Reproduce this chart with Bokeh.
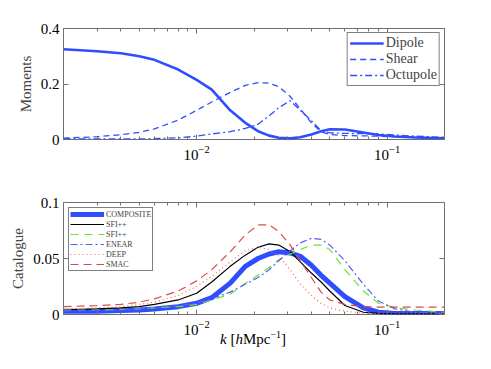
import numpy as np
from bokeh.plotting import figure
from bokeh.layouts import column
from bokeh.models import (FixedTicker, LogAxis, LinearAxis, Legend, LegendItem,
                          ColumnDataSource, Div)
from bokeh.core.properties import value
from bokeh.embed import file_html
from bokeh.resources import INLINE

# ---------------- data ----------------
k = [0.002, 0.003, 0.004, 0.005, 0.006, 0.008, 0.01, 0.012, 0.015, 0.018, 0.021,
     0.024, 0.027, 0.031, 0.035, 0.04, 0.045, 0.05, 0.06, 0.075, 0.09, 0.11, 0.14, 0.2]

dipole = [0.325, 0.318, 0.311, 0.300, 0.287, 0.252, 0.215, 0.180, 0.105, 0.060, 0.030,
          0.014, 0.006, 0.004, 0.008, 0.018, 0.030, 0.037, 0.036, 0.025, 0.016, 0.011, 0.007, 0.004]
shear = [0.005, 0.010, 0.017, 0.026, 0.038, 0.070, 0.105, 0.135, 0.170, 0.195, 0.205,
         0.203, 0.190, 0.155, 0.110, 0.060, 0.028, 0.018, 0.014, 0.013, 0.012, 0.010, 0.008, 0.005]
octupole = [0.003, 0.002, 0.002, 0.002, 0.003, 0.006, 0.012, 0.020, 0.028, 0.040, 0.055,
            0.085, 0.115, 0.140, 0.105, 0.068, 0.032, 0.024, 0.022, 0.021, 0.020, 0.016, 0.012, 0.008]

composite = [0.003, 0.003, 0.0035, 0.004, 0.005, 0.007, 0.010, 0.015, 0.028, 0.043, 0.050,
             0.054, 0.056, 0.055, 0.052, 0.044, 0.035, 0.028, 0.016, 0.006, 0.002, 0.001, 0.001, 0.001]
sfi_f = [0.004, 0.005, 0.006, 0.007, 0.009, 0.013, 0.019, 0.029, 0.043, 0.053, 0.060,
         0.063, 0.062, 0.056, 0.047, 0.037, 0.029, 0.021, 0.008, 0.002, 0.001, 0.0005, 0.0005, 0.0005]
sfi_s = [0.004, 0.004, 0.0045, 0.005, 0.006, 0.007, 0.009, 0.013, 0.018, 0.028, 0.035,
         0.042, 0.049, 0.054, 0.058, 0.062, 0.062, 0.058, 0.040, 0.021, 0.010, 0.006, 0.004, 0.002]
enear = [0.003, 0.0035, 0.004, 0.005, 0.006, 0.008, 0.010, 0.014, 0.020, 0.027, 0.033,
         0.040, 0.048, 0.057, 0.064, 0.068, 0.067, 0.062, 0.048, 0.027, 0.012, 0.005, 0.002, 0.001]
deep = [0.005, 0.006, 0.007, 0.009, 0.011, 0.017, 0.025, 0.034, 0.047, 0.057, 0.060,
        0.058, 0.052, 0.040, 0.027, 0.017, 0.010, 0.006, 0.003, 0.001, 0.0005, 0.0005, 0.0005, 0.0005]
smac = [0.007, 0.008, 0.009, 0.011, 0.014, 0.021, 0.030, 0.040, 0.056, 0.071, 0.080,
        0.080, 0.074, 0.062, 0.048, 0.033, 0.020, 0.013, 0.009, 0.007, 0.0065, 0.0065, 0.0065, 0.0065]

x_major = [0.01, 0.1]
x_minor = [0.002, 0.003, 0.004, 0.005, 0.006, 0.007, 0.008, 0.009,
           0.02, 0.03, 0.04, 0.05, 0.06, 0.07, 0.08, 0.09, 0.2]
top_yticks = [0, 0.2, 0.4]
top_ylabels = ["0", "0.2", "0.4"]
bot_yticks = [0, 0.05, 0.1]
bot_ylabels = ["0", "0.05", "0.1"]

# legend subscripts (SFI++_f, SFI++_s) and where they sit inside the legend box
sub_text = ["f", "s"]
sub_x = [0.00442, 0.00442]
sub_y = [0.0780, 0.0690]

FONT = "Liberation Serif"
GREY = "#707070"


def style_axis(ax, size="15px"):
    ax.axis_line_color = None
    ax.major_tick_in = 5
    ax.major_tick_out = 0
    ax.minor_tick_in = 3
    ax.minor_tick_out = 0
    ax.major_tick_line_color = GREY
    ax.minor_tick_line_color = GREY
    ax.major_label_text_font = FONT
    ax.major_label_text_color = "black"
    ax.major_label_text_font_size = size
    ax.axis_label_text_font = FONT
    ax.axis_label_text_font_style = "normal"
    ax.axis_label_text_font_size = size


def make_fig(yticks, ylabels, yrange, h, top, bottom, ylabel):
    p = figure(x_axis_type="log", x_range=(0.002, 0.2), y_range=yrange,
               width=491, height=h,
               min_border_left=63, min_border_right=47,
               min_border_top=top, min_border_bottom=bottom,
               output_backend="svg", toolbar_location=None)
    p.grid.visible = False
    p.outline_line_color = GREY
    p.outline_line_width = 1
    p.xaxis.ticker = FixedTicker(ticks=x_major, minor_ticks=x_minor)
    p.yaxis.ticker = FixedTicker(ticks=yticks)
    p.yaxis.major_label_overrides = {t: l for t, l in zip(yticks, ylabels)}
    style_axis(p.xaxis[0])
    style_axis(p.yaxis[0])
    p.yaxis.axis_label = ylabel
    p.yaxis.axis_label_standoff = 4
    p.yaxis.major_label_standoff = 4
    p.xaxis.major_label_standoff = 6
    # tick marks on the top and right edges (matlab-like box)
    ax_top = LogAxis(ticker=FixedTicker(ticks=x_major, minor_ticks=x_minor))
    style_axis(ax_top)
    ax_top.major_label_text_alpha = 0
    ax_top.major_label_text_font_size = "2px"
    p.add_layout(ax_top, "above")
    ax_right = LinearAxis(ticker=FixedTicker(ticks=yticks))
    style_axis(ax_right)
    ax_right.major_label_text_alpha = 0
    ax_right.major_label_text_font_size = "2px"
    p.add_layout(ax_right, "right")
    return p


BLUE = "#2f4dff"

# ---------- top panel ----------
p1 = make_fig(top_yticks, top_ylabels, (0, 0.4), 178, 28, 39, "Moments")
src1 = ColumnDataSource(dict(k=k, dipole=dipole, shear=shear, octupole=octupole))
r_d = p1.line("k", "dipole", source=src1, line_color=BLUE, line_width=2.6)
r_s = p1.line("k", "shear", source=src1, line_color=BLUE, line_width=1.3, line_dash="6 4")
r_o = p1.line("k", "octupole", source=src1, line_color=BLUE, line_width=1.3, line_dash="7 3 2 3")
leg1 = Legend(items=[LegendItem(label="Dipole", renderers=[r_d]),
                     LegendItem(label="Shear", renderers=[r_s]),
                     LegendItem(label="Octupole", renderers=[r_o])],
              location="top_right")
leg1.label_text_font = FONT
leg1.label_text_font_size = "14px"
leg1.border_line_color = "black"
leg1.border_line_width = 1
leg1.padding = 2
leg1.spacing = 0
leg1.margin = 4
leg1.glyph_width = 34
leg1.glyph_height = 14
leg1.label_height = 14
leg1.label_standoff = 2
leg1.background_fill_alpha = 1
p1.add_layout(leg1)

# ---------- bottom panel ----------
p2 = make_fig(bot_yticks, bot_ylabels, (0, 0.1), 161, 24, 25, "Catalogue")
src2 = ColumnDataSource(dict(k=k, composite=composite, sfi_f=sfi_f, sfi_s=sfi_s,
                             enear=enear, deep=deep, smac=smac))
r_c = p2.line("k", "composite", source=src2, line_color=BLUE, line_width=5)
r_f = p2.line("k", "sfi_f", source=src2, line_color="black", line_width=1.2)
r_g = p2.line("k", "sfi_s", source=src2, line_color="#66e62a", line_width=1.2, line_dash="8 6")
r_e = p2.line("k", "enear", source=src2, line_color="#5a5aff", line_width=1.2, line_dash="7 3 2 3")
r_p = p2.line("k", "deep", source=src2, line_color="#ff6060", line_width=1.2, line_dash="1 3")
r_m = p2.line("k", "smac", source=src2, line_color="#d94c4c", line_width=1.2, line_dash="8 5")
leg2 = Legend(items=[LegendItem(label="COMPOSITE", renderers=[r_c]),
                     LegendItem(label="SFI++", renderers=[r_f]),
                     LegendItem(label="SFI++", renderers=[r_g]),
                     LegendItem(label="ENEAR", renderers=[r_e]),
                     LegendItem(label="DEEP", renderers=[r_p]),
                     LegendItem(label="SMAC", renderers=[r_m])],
              location="top_left", level="underlay")
leg2.label_text_font = FONT
leg2.label_text_font_size = "8px"
leg2.border_line_color = "black"
leg2.border_line_width = 1
leg2.padding = 1
leg2.spacing = 0
leg2.margin = 5
leg2.glyph_width = 34
leg2.glyph_height = 10
leg2.label_height = 10
leg2.label_standoff = 2
leg2.background_fill_alpha = 1
p2.add_layout(leg2)

# subscripts of the SFI++ legend entries (drawn on top of the legend box)
src_sub = ColumnDataSource(dict(x=sub_x, y=sub_y, t=sub_text))
p2.text("x", "y", text="t", source=src_sub, text_font=value(FONT),
        text_font_style="italic", text_font_size="8px", text_baseline="middle",
        text_color="black")

# x-axis label: italic k and h, superscript -1
xlabel = Div(text='<div style="font-family:\'Liberation Serif\';font-size:15px;'
                  'padding-left:215px;position:relative;top:-16px;white-space:nowrap;color:#000">'
                  '<i>k</i> [<i>h</i>Mpc<sup style="font-size:10px">\u22121</sup>]</div>',
             width=491, height=30)

layout = column(p1, p2, xlabel, spacing=0)
open("out.html", "w").write(file_html(layout, INLINE))
